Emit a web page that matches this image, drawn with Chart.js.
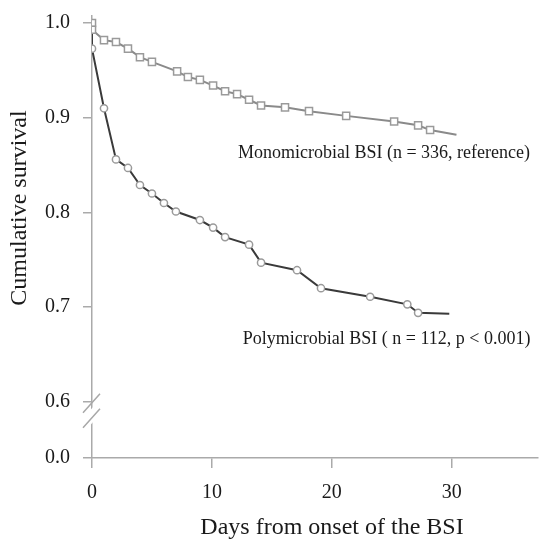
<!DOCTYPE html>
<html>
<head>
<meta charset="utf-8">
<script src="https://cdn.jsdelivr.net/npm/chart.js@4"></script>
<style>
  html, body { margin: 0; padding: 0; background: #fff; }
  #wrap { width: 539px; height: 540px; }
</style>
</head>
<body>
<div id="wrap"><canvas id="survChart" width="539" height="540"></canvas></div>
<script>
// ── DATA ──────────────────────────────────────────────
const monoDays = [0, 0, 1, 2, 3, 4, 5, 7.1, 8, 9, 10.1, 11.1, 12.1, 13.1, 14.1, 16.1, 18.1, 21.2, 25.2, 27.2, 28.2, 30.4];
const monoSurv = [1.0, 0.993, 0.982, 0.980, 0.973, 0.964, 0.959, 0.949, 0.943, 0.940, 0.934, 0.928, 0.925, 0.919, 0.913, 0.911, 0.907, 0.902, 0.896, 0.892, 0.887, 0.882];
const polyDays = [0, 0, 1, 2, 3, 4, 5, 6, 7, 9, 10.1, 11.1, 13.1, 14.1, 17.1, 19.1, 23.2, 26.3, 27.2, 29.8];
const polySurv = [1.0, 0.973, 0.910, 0.856, 0.847, 0.829, 0.820, 0.810, 0.801, 0.792, 0.784, 0.774, 0.766, 0.747, 0.739, 0.720, 0.711, 0.703, 0.694, 0.693];
const xTicks = [0, 10, 20, 30];
const yTicks = [0.6, 0.7, 0.8, 0.9, 1.0];
const monoLabel = 'Monomicrobial BSI (n = 336, reference)';
const polyLabel = 'Polymicrobial BSI ( n = 112, p < 0.001)';
const xTitle = 'Days from onset of the BSI';
const yTitle = 'Cumulative survival';

// broken axis: "0.0" sits just below the break
const Y_ZERO = 0.5407;
const SERIF = '"Liberation Serif", "Times New Roman", serif';

const toPts = (xs, ys) => xs.map((x, i) => ({ x: x, y: ys[i] }));
// no marker on the first (start) and last (censor end) point of each curve
const radii = (n, r, skipFirst) => Array.from({ length: n }, (_, i) => (i === n - 1 || (skipFirst && i === 0)) ? 0 : r);

// ── PLUGINS ───────────────────────────────────────────
const axisBreak = {
    id: 'axisBreak',
    afterDraw(chart) {
        const ctx = chart.ctx, y = chart.scales.y, x0 = chart.scales.x.getPixelForValue(0);
        const p = y.getPixelForValue(0.6);
        ctx.save();
        ctx.fillStyle = '#fff';
        ctx.beginPath();
        ctx.moveTo(x0 - 4, p + 11); ctx.lineTo(x0 + 4, p + 2);
        ctx.lineTo(x0 + 4, p + 17); ctx.lineTo(x0 - 4, p + 26);
        ctx.closePath(); ctx.fill();
        ctx.strokeStyle = '#a8a8a8'; ctx.lineWidth = 1.5;
        ctx.beginPath();
        ctx.moveTo(x0 - 9, p + 11); ctx.lineTo(x0 + 8, p - 8);
        ctx.moveTo(x0 - 9, p + 26); ctx.lineTo(x0 + 8, p + 7);
        ctx.stroke();
        ctx.restore();
    }
};

const chartTexts = {
    id: 'chartTexts',
    afterDatasetsDraw(chart) {
        const ctx = chart.ctx, sx = chart.scales.x, sy = chart.scales.y;
        ctx.save();
        ctx.fillStyle = '#1a1a1a';
        ctx.textBaseline = 'middle';
        ctx.font = '18px ' + SERIF;
        ctx.fillText(monoLabel, sx.getPixelForValue(12.17), sy.getPixelForValue(0.863));
        ctx.fillText(polyLabel, sx.getPixelForValue(12.58), sy.getPixelForValue(0.666));
        // axis titles (placed off-centre like the original)
        ctx.font = '24px ' + SERIF;
        ctx.textAlign = 'center';
        ctx.fillText(xTitle, 332, 528);
        ctx.translate(20, 208);
        ctx.rotate(-Math.PI / 2);
        ctx.fillText(yTitle, 0, 0);
        ctx.restore();
    }
};

// ── CHART ─────────────────────────────────────────────
new Chart(document.getElementById('survChart'), {
    type: 'line',
    data: {
        datasets: [
            {
                label: 'Monomicrobial',
                data: toPts(monoDays, monoSurv),
                borderColor: '#8a8a8a', borderWidth: 2,
                pointStyle: 'rect', pointRadius: radii(monoDays.length, 5, false),
                pointBackgroundColor: '#fff', pointBorderColor: '#9a9a9a', pointBorderWidth: 1.5,
                tension: 0
            },
            {
                label: 'Polymicrobial',
                data: toPts(polyDays, polySurv),
                borderColor: '#3a3a3a', borderWidth: 2,
                pointStyle: 'circle', pointRadius: radii(polyDays.length, 3.6, true),
                pointBackgroundColor: '#fff', pointBorderColor: '#9a9a9a', pointBorderWidth: 1.5,
                tension: 0
            }
        ]
    },
    options: {
        responsive: false,
        animation: false,
        layout: { padding: 0, autoPadding: false },
        plugins: { legend: { display: false }, tooltip: { enabled: false } },
        scales: {
            x: {
                type: 'linear', min: 0, max: 37.2,
                afterBuildTicks: s => { s.ticks = xTicks.map(v => ({ value: v })); },
                afterFit: s => { s.height = 82; s.paddingLeft = 0; s.paddingRight = 1; },
                grid: { drawOnChartArea: false, drawTicks: true, tickLength: 10, color: '#aaa', lineWidth: 1.5 },
                border: { color: '#aaa', width: 1.5 },
                ticks: { color: '#1a1a1a', padding: 13, font: { family: SERIF, size: 20 } },
                title: { display: false, text: xTitle }
            },
            y: {
                type: 'linear', min: Y_ZERO, max: 1.008,
                afterBuildTicks: s => { s.ticks = [Y_ZERO].concat(yTicks).map(v => ({ value: v })); },
                afterFit: s => { s.width = 92; s.paddingTop = 15.5; s.paddingBottom = 0; },
                grid: { drawOnChartArea: false, drawTicks: true, tickLength: 9, color: '#aaa', lineWidth: 1.5 },
                border: { color: '#aaa', width: 1.5 },
                ticks: {
                    color: '#1a1a1a', padding: 13, font: { family: SERIF, size: 20 },
                    callback: v => v < 0.55 ? '0.0' : v.toFixed(1)
                },
                title: { display: false, text: yTitle }
            }
        }
    },
    plugins: [axisBreak, chartTexts]
});
</script>
</body>
</html>
